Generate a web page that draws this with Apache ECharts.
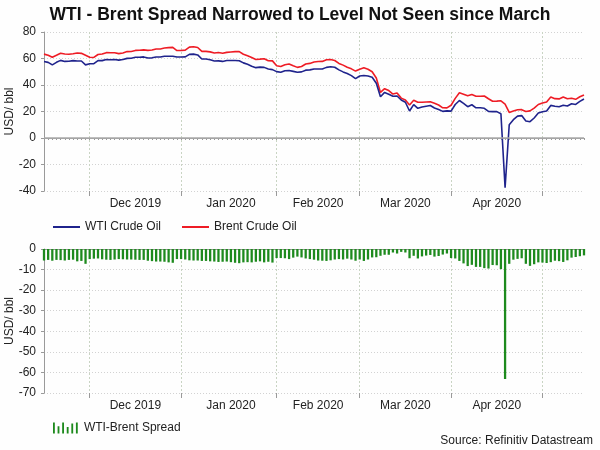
<!DOCTYPE html>
<html>
<head>
<meta charset="utf-8">
<script src="https://cdn.jsdelivr.net/npm/echarts@6/dist/echarts.min.js"></script>
<style>
html,body{margin:0;padding:0;background:#fefefe;}
#chart{width:600px;height:450px;}
</style>
</head>
<body>
<div id="chart"></div>
<script>
// Trading days (category axis)
var dates = [
'2019-11-15','2019-11-18','2019-11-19','2019-11-20','2019-11-21','2019-11-22','2019-11-25','2019-11-26','2019-11-27','2019-11-28','2019-11-29',
'2019-12-02','2019-12-03','2019-12-04','2019-12-05','2019-12-06','2019-12-09','2019-12-10','2019-12-11','2019-12-12','2019-12-13','2019-12-16','2019-12-17','2019-12-18','2019-12-19','2019-12-20','2019-12-23','2019-12-24','2019-12-25','2019-12-26','2019-12-27','2019-12-30','2019-12-31',
'2020-01-01','2020-01-02','2020-01-03','2020-01-06','2020-01-07','2020-01-08','2020-01-09','2020-01-10','2020-01-13','2020-01-14','2020-01-15','2020-01-16','2020-01-17','2020-01-20','2020-01-21','2020-01-22','2020-01-23','2020-01-24','2020-01-27','2020-01-28','2020-01-29','2020-01-30','2020-01-31',
'2020-02-03','2020-02-04','2020-02-05','2020-02-06','2020-02-07','2020-02-10','2020-02-11','2020-02-12','2020-02-13','2020-02-14','2020-02-17','2020-02-18','2020-02-19','2020-02-20','2020-02-21','2020-02-24','2020-02-25','2020-02-26','2020-02-27','2020-02-28',
'2020-03-02','2020-03-03','2020-03-04','2020-03-05','2020-03-06','2020-03-09','2020-03-10','2020-03-11','2020-03-12','2020-03-13','2020-03-16','2020-03-17','2020-03-18','2020-03-19','2020-03-20','2020-03-23','2020-03-24','2020-03-25','2020-03-26','2020-03-27','2020-03-30','2020-03-31',
'2020-04-01','2020-04-02','2020-04-03','2020-04-06','2020-04-07','2020-04-08','2020-04-09','2020-04-10','2020-04-13','2020-04-14','2020-04-15','2020-04-16','2020-04-17','2020-04-20','2020-04-21','2020-04-22','2020-04-23','2020-04-24','2020-04-27','2020-04-28','2020-04-29','2020-04-30',
'2020-05-01','2020-05-04','2020-05-05','2020-05-06','2020-05-07','2020-05-08','2020-05-11','2020-05-12','2020-05-13','2020-05-14','2020-05-15'
];

var wti = [
57.7,57.1,55.2,57.1,58.6,57.8,57.9,58.4,58.1,58.1,55.2,
56.0,56.1,58.4,58.4,59.2,59.0,59.2,58.8,59.2,60.1,60.2,60.9,60.9,61.2,60.4,60.5,61.1,61.1,61.7,61.7,61.7,61.1,
61.1,61.2,63.1,63.3,62.7,59.6,59.6,59.0,58.1,58.2,57.8,58.5,58.5,58.5,58.3,56.7,55.6,54.2,53.1,53.5,53.3,52.1,51.6,
50.1,49.6,50.8,51.0,50.3,49.6,49.9,51.2,51.4,52.1,52.1,52.1,53.3,53.8,53.4,51.4,49.9,48.7,47.1,44.8,
46.8,47.2,46.8,45.9,41.3,31.1,34.4,33.0,31.5,31.7,28.7,27.0,20.4,25.2,22.4,23.4,24.0,24.5,22.6,21.5,20.1,20.5,
20.3,25.3,28.3,26.1,23.6,25.1,22.8,22.8,22.4,20.1,19.9,19.9,18.3,-37.6,10.0,13.8,16.5,16.9,12.8,12.3,15.1,18.8,
19.8,20.4,24.6,24.0,23.6,24.7,24.1,25.8,25.3,27.6,29.4
];

var brent = [
63.3,62.4,60.9,62.4,64.0,63.4,63.2,63.6,64.1,63.9,62.4,
60.9,60.8,63.0,63.4,64.4,64.3,64.3,63.7,64.2,65.2,65.3,66.1,66.2,66.5,66.1,66.4,67.2,67.2,67.9,68.2,68.4,66.0,
66.0,66.3,68.6,68.9,68.3,65.4,65.4,65.0,64.2,64.5,64.0,64.6,64.9,65.2,65.2,63.2,62.0,60.7,59.3,59.5,59.8,58.3,58.2,
54.5,54.0,55.3,55.9,54.5,53.3,54.0,55.8,56.3,57.3,57.7,57.8,59.1,59.3,58.5,56.3,55.0,53.4,52.2,50.5,
51.9,53.0,51.9,50.0,45.3,34.4,37.2,35.8,33.2,33.9,30.1,28.7,24.9,28.5,27.0,27.0,27.2,27.4,26.3,24.9,22.8,22.7,
24.7,29.9,34.1,33.1,31.9,32.8,31.5,31.5,31.7,29.6,27.7,27.8,28.1,25.6,19.3,20.4,21.3,21.4,20.0,20.5,22.5,25.3,
26.4,27.2,31.0,29.7,29.5,31.0,29.6,30.0,29.2,31.1,32.5
];

var spread = [
-5.6,-5.3,-5.7,-5.3,-5.4,-5.6,-5.3,-5.2,-6.0,-5.8,-7.2,
-4.9,-4.7,-4.6,-5.0,-5.2,-5.3,-5.1,-4.9,-5.0,-5.1,-5.1,-5.2,-5.3,-5.3,-5.7,-5.9,-6.1,-6.1,-6.2,-6.5,-6.7,-4.9,
-4.9,-5.1,-5.5,-5.6,-5.6,-5.8,-5.8,-6.0,-6.1,-6.3,-6.2,-6.1,-6.4,-6.7,-6.9,-6.5,-6.4,-6.5,-6.2,-6.0,-6.5,-6.2,-6.6,
-4.4,-4.4,-4.5,-4.9,-4.2,-3.7,-4.1,-4.6,-4.9,-5.2,-5.6,-5.7,-5.8,-5.5,-5.1,-4.9,-5.1,-4.7,-5.1,-5.7,
-5.1,-5.8,-5.1,-4.1,-4.0,-3.3,-2.8,-2.8,-1.7,-2.2,-1.4,-1.7,-4.5,-3.3,-4.6,-3.6,-3.2,-2.9,-3.7,-3.4,-2.7,-2.2,
-4.4,-4.6,-5.8,-7.0,-8.3,-7.7,-8.7,-8.7,-9.3,-9.5,-7.8,-7.9,-9.8,-63.2,-7.2,-5.2,-4.8,-4.5,-7.2,-8.2,-7.4,-6.5,
-6.6,-6.8,-6.4,-5.7,-5.9,-6.3,-5.5,-4.2,-3.9,-3.5,-3.1
];

// Month tick labels and where they sit (mid-month), month boundary grid lines
var monthLabels = ['Dec 2019','Jan 2020','Feb 2020','Mar 2020','Apr 2020'];
var labelDates = ['2019-12-17','2020-01-17','2020-02-17','2020-03-17','2020-04-16'];
var gridDates = ['2019-12-02','2020-01-01','2020-02-03','2020-03-02','2020-04-01','2020-05-01'];

var FONT = 'Liberation Sans, Arial, sans-serif';
var TXT = '#222222';
var AXIS = '#9a9a9a';
var GRIDC = '#c9d4c3';

function isLabel(i, v){ return labelDates.indexOf(v) >= 0; }
function isGrid(i, v){ return gridDates.indexOf(v) >= 0; }

function mainX(gi){
  return {
    type:'category', gridIndex:gi, data:dates, boundaryGap:false, position:'bottom',
    axisLine:{show:true, lineStyle:{color:AXIS, width:1}},
    axisTick:{show:true, interval:0, length:2, lineStyle:{color:AXIS}},
    axisLabel:{interval:isLabel, formatter:function(v){return monthLabels[labelDates.indexOf(v)];},
               margin:7, fontSize:12, color:TXT, fontFamily:FONT},
    splitLine:{show:true, interval:isGrid, lineStyle:{color:GRIDC, type:[2,2], width:1}}
  };
}
function tickX(gi){
  return {
    type:'category', gridIndex:gi, data:dates, boundaryGap:false, position:'bottom', offset:0,
    axisLine:{show:false},
    axisTick:{show:true, interval:isGrid, length:5, lineStyle:{color:AXIS}},
    axisLabel:{show:false}, splitLine:{show:false}
  };
}
function yAx(gi, mn, mx, step){
  return {
    type:'value', gridIndex:gi, min:mn, max:mx, interval:step,
    name:'USD/ bbl', nameLocation:'middle', nameGap:28, nameMoveOverlap:false,
    nameTextStyle:{fontSize:12, color:TXT, fontFamily:FONT},
    axisLine:{show:true, lineStyle:{color:AXIS}},
    axisTick:{show:true, length:3, lineStyle:{color:AXIS}},
    axisLabel:{fontSize:12, color:TXT, margin:8, fontFamily:FONT},
    splitLine:{show:true, lineStyle:{color:'#d2d2d2', type:[1,2]}}
  };
}

var chart = echarts.init(document.getElementById('chart'), null, {renderer:'canvas'});
chart.setOption({
  backgroundColor:'#fefefe',
  animation:false,
  textStyle:{fontFamily:FONT},
  title:{text:'WTI - Brent Spread Narrowed to Level Not Seen since March', left:'center', top:1,
         textStyle:{fontSize:17.5, fontWeight:'bold', color:'#111', fontFamily:FONT}},
  grid:[{left:44, right:16, top:32, height:159, containLabel:false, outerBoundsMode:'none'},
        {left:44, right:16, top:249, height:144, containLabel:false, outerBoundsMode:'none'}],
  xAxis:[mainX(0), tickX(0), mainX(1), tickX(1)],
  yAxis:[yAx(0,-40,80,20), yAx(1,-70,0,10)],
  legend:[
    {data:[{name:'WTI Crude Oil', icon:'rect'},{name:'Brent Crude Oil', icon:'rect'}],
     left:48, top:216, itemWidth:27, itemHeight:2, itemGap:21,
     textStyle:{fontSize:12, color:TXT, fontFamily:FONT}},
    {data:[{name:'WTI-Brent Spread', icon:'path://M0,0h2v12h-2z M5,4h2v8h-2z M10,0h2v12h-2z M15,5h2v7h-2z M20,1h2v11h-2z M25,0h2v12h-2z'}],
     left:48, top:417, itemWidth:27, itemHeight:11,
     textStyle:{fontSize:12, color:TXT, fontFamily:FONT}}
  ],
  graphic:[{type:'text', right:7, top:435, style:{text:'Source: Refinitiv Datastream', fontSize:12, fill:TXT, fontFamily:FONT}}],
  series:[
    {name:'Brent Crude Oil', type:'line', xAxisIndex:0, yAxisIndex:0, data:brent, symbol:'none',
     itemStyle:{color:'#ee1c25'}, lineStyle:{color:'#ee1c25', width:1.6}},
    {name:'WTI Crude Oil', type:'line', xAxisIndex:0, yAxisIndex:0, data:wti, symbol:'none',
     itemStyle:{color:'#1f238c'}, lineStyle:{color:'#1f238c', width:1.6},
     markLine:{silent:true, symbol:'none', label:{show:false},
               lineStyle:{color:'#a8a8a8', type:'solid', width:1.5}, data:[{yAxis:0}]}},
    {name:'WTI-Brent Spread', type:'bar', xAxisIndex:2, yAxisIndex:1, data:spread, barWidth:'55%',
     itemStyle:{color:'#1d8a1d'}}
  ]
});
</script>
</body>
</html>
